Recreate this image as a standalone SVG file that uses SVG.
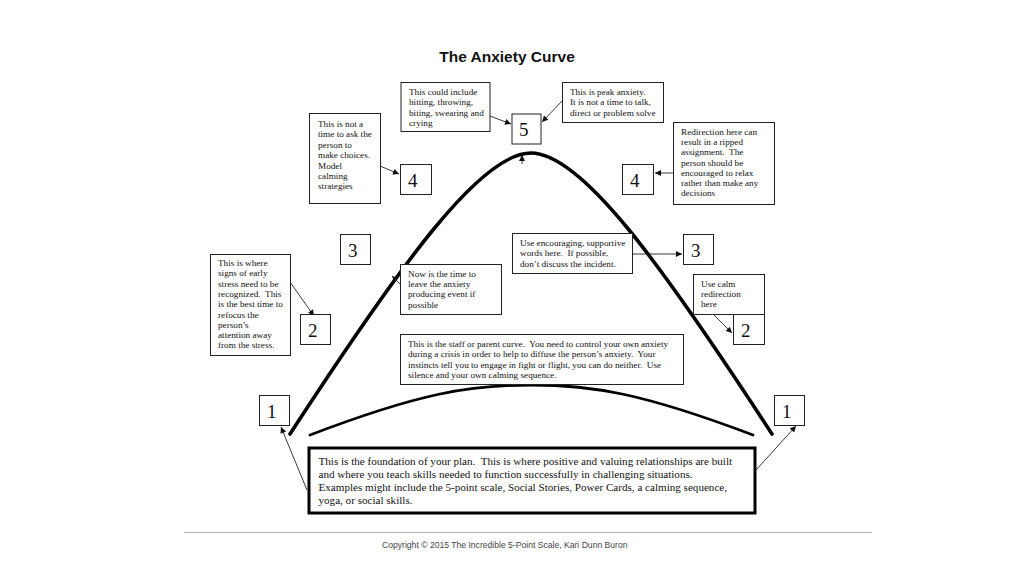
<svg xmlns="http://www.w3.org/2000/svg" width="1024" height="576" viewBox="0 0 1024 576">
<defs>
<style>
.bx{fill:#fff;stroke:#222;stroke-width:1}
.t{font-family:"Liberation Serif","Times New Roman",serif;font-size:9.2px;fill:#111}
.tf{font-family:"Liberation Serif","Times New Roman",serif;font-size:11.1px;fill:#111}
.n{font-family:"Liberation Serif","Times New Roman",serif;font-size:19px;fill:#111}
.cn{fill:none;stroke:#222;stroke-width:0.9;marker-end:url(#ah)}
.crv{fill:none;stroke:#000;stroke-linecap:round}
</style>
<marker id="ah" viewBox="0 0 10 10" refX="10" refY="5" markerWidth="7" markerHeight="6" markerUnits="userSpaceOnUse" orient="auto">
<path d="M0,0 L10,5 L0,10 z" fill="#111"/>
</marker>
</defs>
<rect width="1024" height="576" fill="#fff"/>
<text x="507" y="61.5" text-anchor="middle" font-family="'Liberation Sans',Arial,sans-serif" font-weight="bold" font-size="15.5" fill="#111">The Anxiety Curve</text>

<g id="curves">
<path class="crv" stroke-width="3.6" d="M290,434 C402,262 481,153 531,153 C581,153 660,262 772,434"/>
<path class="crv" stroke-width="2.8" d="M310,435 C420,393 470,385 531,385 C592,385 642,393 753,435"/>
</g>

<g id="connectors">
<line class="cn" x1="490" y1="116" x2="511" y2="124"/>
<line class="cn" x1="563" y1="100" x2="542" y2="122"/>
<line class="cn" x1="380" y1="166" x2="399" y2="174"/>
<line class="cn" x1="673" y1="173" x2="655" y2="173"/>
<line class="cn" x1="522" y1="164" x2="522" y2="155"/>
<line class="cn" x1="632" y1="254" x2="682" y2="254"/>
<line class="cn" x1="400" y1="284" x2="392" y2="276"/>
<line class="cn" x1="290" y1="282" x2="314" y2="316"/>
<line class="cn" x1="713" y1="314" x2="732" y2="333"/>
<line class="cn" x1="307" y1="490" x2="281" y2="427"/>
<line class="cn" x1="756" y1="470" x2="796" y2="426"/>
</g>

<g id="note-could-include">
<rect class="bx" x="401" y="82.5" width="89" height="49"/>
<text class="t" x="409" y="95">This could include</text>
<text class="t" x="409" y="105.4">hitting, throwing,</text>
<text class="t" x="409" y="115.8">biting, swearing and</text>
<text class="t" x="409" y="126.2">crying</text>
</g>
<g id="box-5">
<rect class="bx" x="512" y="114" width="29" height="30"/>
<text class="n" x="519" y="136">5</text>
</g>
<g id="note-peak">
<rect class="bx" x="562.5" y="82.5" width="101" height="40"/>
<text class="t" x="570" y="95">This is peak anxiety.</text>
<text class="t" x="570" y="105.4">It is not a time to talk,</text>
<text class="t" x="570" y="115.8">direct or problem solve</text>
</g>
<g id="note-not-a-time">
<rect class="bx" x="309.5" y="113.5" width="71" height="90"/>
<text class="t" x="318" y="127">This is not a</text>
<text class="t" x="318" y="137.4">time to ask the</text>
<text class="t" x="318" y="147.8">person to</text>
<text class="t" x="318" y="158.2">make choices.</text>
<text class="t" x="318" y="168.6">Model</text>
<text class="t" x="318" y="179">calming</text>
<text class="t" x="318" y="189.4">strategies</text>
</g>
<g id="box-4-left">
<rect class="bx" x="400.5" y="164.5" width="31" height="30"/>
<text class="n" x="408" y="186.5">4</text>
</g>
<g id="box-4-right">
<rect class="bx" x="622.5" y="164.5" width="31" height="30"/>
<text class="n" x="630" y="186.5">4</text>
</g>
<g id="note-redirection">
<rect class="bx" x="673.5" y="122.5" width="101" height="82"/>
<text class="t" x="681" y="135">Redirection here can</text>
<text class="t" x="681" y="145.2">result in a ripped</text>
<text class="t" x="681" y="155.4">assignment.&#160; The</text>
<text class="t" x="681" y="165.6">person should be</text>
<text class="t" x="681" y="175.8">encouraged to relax</text>
<text class="t" x="681" y="186">rather than make any</text>
<text class="t" x="681" y="196.2">decisions</text>
</g>
<g id="box-3-left">
<rect class="bx" x="340.5" y="234.5" width="30" height="30"/>
<text class="n" x="348" y="256.5">3</text>
</g>
<g id="note-encouraging">
<rect class="bx" x="512.5" y="233.5" width="120" height="40"/>
<text class="t" x="520" y="246">Use encouraging, supportive</text>
<text class="t" x="520" y="256.4">words here.&#160; If possible,</text>
<text class="t" x="520" y="266.8">don’t discuss the incident.</text>
</g>
<g id="box-3-right">
<rect class="bx" x="683.5" y="234.5" width="30" height="30"/>
<text class="n" x="691" y="256.5">3</text>
</g>
<g id="note-early-stress">
<rect class="bx" x="210.5" y="254.5" width="80" height="101"/>
<text class="t" x="218" y="266">This is where</text>
<text class="t" x="218" y="276.3">signs of early</text>
<text class="t" x="218" y="286.6">stress need to be</text>
<text class="t" x="218" y="296.9">recognized.&#160; This</text>
<text class="t" x="218" y="307.2">is the best time to</text>
<text class="t" x="218" y="317.5">refocus the</text>
<text class="t" x="218" y="327.8">person’s</text>
<text class="t" x="218" y="338.1">attention away</text>
<text class="t" x="218" y="348.4">from the stress.</text>
</g>
<g id="note-now-is-the-time">
<rect class="bx" x="400.5" y="264.5" width="101" height="50"/>
<text class="t" x="408" y="276.5">Now is the time to</text>
<text class="t" x="408" y="286.9">leave the anxiety</text>
<text class="t" x="408" y="297.3">producing event if</text>
<text class="t" x="408" y="307.7">possible</text>
</g>
<g id="box-2-left">
<rect class="bx" x="300.5" y="314.5" width="30" height="30"/>
<text class="n" x="308" y="336.5">2</text>
</g>
<g id="note-calm-redirection">
<rect class="bx" x="693.5" y="274.5" width="71" height="40"/>
<text class="t" x="701" y="286.5">Use calm</text>
<text class="t" x="701" y="296.9">redirection</text>
<text class="t" x="701" y="307.3">here</text>
</g>
<g id="box-2-right">
<rect class="bx" x="733.5" y="314.5" width="31" height="30"/>
<text class="n" x="741" y="336.5">2</text>
</g>
<g id="note-staff-curve">
<rect class="bx" x="400.5" y="334.5" width="283" height="50"/>
<text class="t" x="408" y="347">This is the staff or parent curve.&#160; You need to control your own anxiety</text>
<text class="t" x="408" y="357.4">during a crisis in order to help to diffuse the person’s anxiety.&#160; Your</text>
<text class="t" x="408" y="367.8">instincts tell you to engage in fight or flight, you can do neither.&#160; Use</text>
<text class="t" x="408" y="378.2">silence and your own calming sequence.</text>
</g>
<g id="box-1-left">
<rect class="bx" x="259.5" y="395.5" width="30" height="30"/>
<text class="n" x="267" y="417.5">1</text>
</g>
<g id="box-1-right">
<rect class="bx" x="774.5" y="395.5" width="30" height="30"/>
<text class="n" x="782" y="417.5">1</text>
</g>
<g id="note-foundation">
<rect x="309" y="448" width="446" height="65" fill="#fff" stroke="#000" stroke-width="3"/>
<text class="tf" x="318.5" y="464.5">This is the foundation of your plan.&#160; This is where positive and valuing relationships are built</text>
<text class="tf" x="318.5" y="477.5">and where you teach skills needed to function successfully in challenging situations.</text>
<text class="tf" x="318.5" y="490.5">Examples might include the 5-point scale, Social Stories, Power Cards, a calming sequence,</text>
<text class="tf" x="318.5" y="503.5">yoga, or social skills.</text>
</g>

<line x1="184" y1="532.5" x2="872" y2="532.5" stroke="#b0b0b0" stroke-width="1"/>
<text x="382" y="547.5" font-family="'Liberation Sans',Arial,sans-serif" font-size="8.6" fill="#444">Copyright © 2015 The Incredible 5-Point Scale, Kari Dunn Buron</text>
</svg>
